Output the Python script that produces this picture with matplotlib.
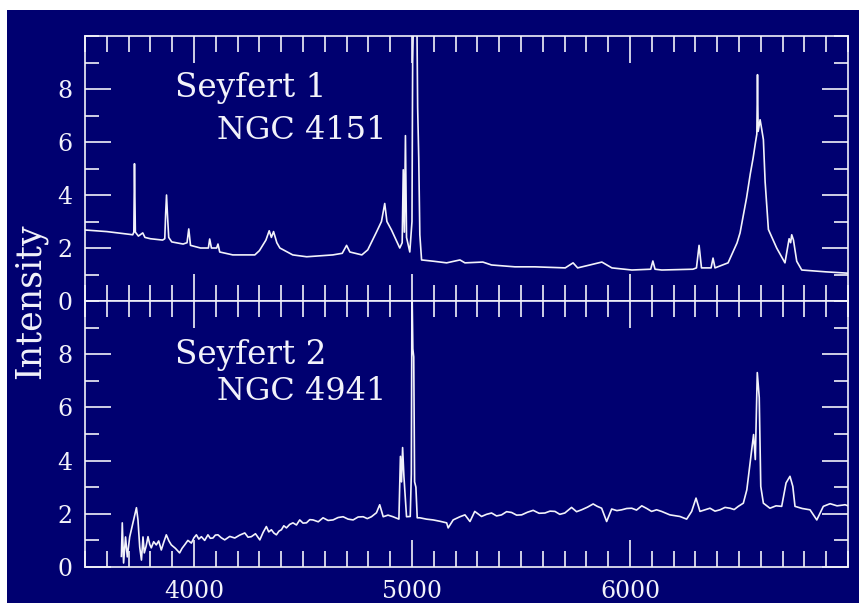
import matplotlib
matplotlib.use("Agg")
import matplotlib.pyplot as plt
from matplotlib.patches import Rectangle
from matplotlib.ticker import MultipleLocator, FixedLocator

# spectres (longueur d'onde en Angstrom, intensite)
wave_sy1 = [3500, 3600, 3700, 3719, 3724, 3727, 3731, 3745, 3765, 3775, 3800, 3856, 3866, 3870,
            3874, 3878, 3884, 3898, 3950, 3968, 3976, 3984, 4030, 4066, 4072, 4080, 4104, 4110,
            4118, 4178, 4279, 4300, 4330, 4345, 4355, 4365, 4380, 4394, 4453, 4517, 4637, 4680,
            4700, 4715, 4770, 4797, 4837, 4860, 4875, 4885, 4906, 4944, 4955, 4960, 4965, 4970,
            4975, 4990, 5000, 5003, 5010, 5020, 5026, 5031, 5036, 5044, 5100, 5159, 5220, 5243,
            5325, 5365, 5472, 5564, 5703, 5739, 5760, 5816, 5871, 5917, 6009, 6095, 6105, 6115,
            6146, 6289, 6305, 6317, 6328, 6372, 6381, 6390, 6450, 6491, 6505, 6535, 6552, 6565,
            6576, 6582, 6585, 6588, 6597, 6604, 6612, 6620, 6635, 6673, 6711, 6730, 6737, 6742,
            6750, 6765, 6788, 6900, 7000]
flux_sy1 = [2.68, 2.62, 2.52, 2.5, 2.6, 5.18, 2.6, 2.45, 2.57, 2.4, 2.35, 2.3, 2.35, 3.3,
            4.0, 3.3, 2.4, 2.23, 2.15, 2.2, 2.72, 2.1, 2.0, 2.0, 2.34, 2.0, 2.0, 2.15,
            1.85, 1.74, 1.74, 1.9, 2.3, 2.65, 2.4, 2.62, 2.2, 2.0, 1.74, 1.67, 1.74, 1.8,
            2.1, 1.85, 1.74, 1.93, 2.6, 3.0, 3.68, 3.0, 2.68, 2.0, 2.2, 4.95, 2.6, 6.24,
            2.4, 1.85, 3.0, 9.0, 12.0, 13.0, 7.3, 5.4, 2.5, 1.55, 1.5, 1.44, 1.55, 1.44,
            1.47, 1.36, 1.29, 1.29, 1.25, 1.44, 1.25, 1.36, 1.47, 1.25, 1.17, 1.2, 1.51, 1.2,
            1.17, 1.2, 1.25, 2.1, 1.25, 1.25, 1.62, 1.25, 1.44, 2.19, 2.57, 3.9, 4.8, 5.4,
            6.0, 6.3, 8.54, 6.4, 6.84, 6.5, 6.09, 4.5, 2.7, 2.0, 1.44, 2.35, 2.2, 2.5,
            2.3, 1.5, 1.17, 1.1, 1.05]

wave_sy2 = [3667, 3671, 3677, 3686, 3694, 3705, 3720, 3736, 3743, 3751, 3759, 3766, 3772, 3780,
            3789, 3797, 3804, 3815, 3827, 3838, 3850, 3862, 3873, 3885, 3896, 3915, 3934, 3945,
            3957, 3972, 3988, 4000, 4011, 4022, 4034, 4049, 4064, 4075, 4087, 4098, 4110, 4125,
            4141, 4164, 4187, 4210, 4233, 4248, 4263, 4282, 4302, 4317, 4332, 4343, 4355, 4366,
            4378, 4390, 4401, 4412, 4424, 4439, 4454, 4470, 4485, 4500, 4516, 4531, 4546, 4570,
            4592, 4615, 4638, 4661, 4684, 4707, 4730, 4753, 4776, 4795, 4814, 4837, 4852, 4868,
            4890, 4913, 4940, 4947, 4952, 4957, 4963, 4975, 4992, 4997, 5000, 5004, 5008, 5012,
            5018, 5024, 5036, 5066, 5097, 5128, 5159, 5166, 5189, 5220, 5243, 5266, 5288, 5319,
            5342, 5365, 5388, 5411, 5434, 5457, 5480, 5503, 5530, 5556, 5583, 5610, 5633, 5656,
            5678, 5701, 5732, 5755, 5778, 5805, 5831, 5850, 5870, 5893, 5916, 5940, 5962, 5985,
            6008, 6030, 6054, 6077, 6099, 6122, 6145, 6183, 6229, 6260, 6283, 6303, 6321, 6344,
            6367, 6390, 6413, 6436, 6459, 6478, 6497, 6520, 6536, 6551, 6567, 6575, 6584, 6593,
            6600, 6612, 6642, 6670, 6696, 6716, 6734, 6747, 6757, 6790, 6826, 6857, 6887, 6918,
            6950, 6987, 7000]
flux_sy2 = [0.4, 1.66, 0.15, 1.13, 0.38, 1.13, 1.66, 2.23, 1.77, 0.75, 0.26, 1.13, 0.53, 0.77,
            1.14, 0.85, 0.72, 0.95, 0.83, 0.98, 0.64, 0.95, 1.21, 0.98, 0.83, 0.7, 0.53, 0.7,
            0.83, 1.0, 0.9, 1.1, 1.21, 1.05, 1.14, 1.0, 1.21, 1.08, 1.09, 1.2, 1.21, 1.1,
            1.02, 1.15, 1.09, 1.2, 1.28, 1.12, 1.14, 1.25, 1.02, 1.3, 1.52, 1.32, 1.4, 1.28,
            1.21, 1.35, 1.4, 1.55, 1.47, 1.6, 1.66, 1.58, 1.77, 1.65, 1.66, 1.78, 1.77, 1.7,
            1.85, 1.75, 1.77, 1.86, 1.89, 1.8, 1.77, 1.88, 1.89, 1.82, 1.89, 2.04, 2.34, 1.89,
            1.95, 1.89, 1.8, 4.16, 3.2, 4.49, 3.4, 1.89, 1.9, 3.5, 10.6, 8.2, 7.9, 3.2,
            3.0, 1.85, 1.85, 1.8, 1.77, 1.72, 1.66, 1.47, 1.77, 1.89, 1.96, 1.71, 2.09, 1.9,
            1.98, 2.03, 1.92, 1.96, 2.08, 2.05, 1.95, 1.96, 2.06, 2.13, 2.02, 2.03, 2.1, 2.09,
            1.98, 2.03, 2.24, 2.08, 2.15, 2.25, 2.37, 2.28, 2.21, 1.71, 2.18, 2.12, 2.15, 2.2,
            2.21, 2.14, 2.3, 2.2, 2.09, 2.15, 2.09, 1.96, 1.9, 1.8, 2.09, 2.59, 2.09, 2.15,
            2.21, 2.1, 2.15, 2.24, 2.21, 2.16, 2.28, 2.4, 2.9, 3.91, 4.98, 4.04, 7.31, 6.37,
            3.03, 2.4, 2.21, 2.3, 2.28, 3.16, 3.41, 3.03, 2.28, 2.2, 2.15, 1.77, 2.28, 2.38,
            2.3, 2.34, 2.3]

labels = [("Seyfert 1", "NGC 4151"), ("Seyfert 2", "NGC 4941")]
xticks = [4000, 5000, 6000]

navy = "#000070"
fg = "#f2f2fa"
plt.rcParams['font.family'] = ['DejaVu Serif']

fig = plt.figure(figsize=(8.59, 6.03), dpi=100, facecolor="white")
fig.patches.append(Rectangle((7 / 859, 0), 1, 593 / 603, transform=fig.transFigure,
                             facecolor=navy, edgecolor="none", zorder=-10))

ax1 = fig.add_axes([0.09895, 0.5008, 0.8882, 0.4395])
ax2 = fig.add_axes([0.09895, 0.0597, 0.8882, 0.4411], sharex=ax1)


def style_axis(ax, show_x):
    ax.set_facecolor(navy)
    ax.set_xlim(3500, 7000)
    ax.set_ylim(0, 10)
    ax.xaxis.set_major_locator(FixedLocator(xticks))
    ax.xaxis.set_minor_locator(MultipleLocator(100))
    ax.yaxis.set_major_locator(FixedLocator([0, 2, 4, 6, 8]))
    ax.yaxis.set_minor_locator(MultipleLocator(1))
    for s in ax.spines.values():
        s.set_color(fg)
        s.set_linewidth(1.2)
    ax.tick_params(axis="both", which="both", direction="in", colors=fg, width=1.2,
                   top=True, right=True, labelsize=17, pad=9)
    ax.tick_params(axis="x", which="major", length=19.5)
    ax.tick_params(axis="x", which="minor", length=11.5)
    ax.tick_params(axis="y", which="major", length=18.7)
    ax.tick_params(axis="y", which="minor", length=10)
    ax.tick_params(axis="x", labelbottom=show_x)


style_axis(ax1, False)
style_axis(ax2, True)

ax1.plot(wave_sy1, flux_sy1, color=fg, lw=1.2)
ax2.plot(wave_sy2, flux_sy2, color=fg, lw=1.2)

for ax, (name, ngc), y1, y2 in [(ax1, labels[0], 0.804, 0.642), (ax2, labels[1], 0.797, 0.658)]:
    ax.text(0.118, y1, name, transform=ax.transAxes, color=fg, fontsize=23.5, va="center")
    ax.text(0.173, y2, ngc, transform=ax.transAxes, color=fg, fontsize=23, va="center")

fig.text(30 / 859, 1 - 301 / 603, "Intensity", rotation=90, color=fg, fontsize=25,
         ha="center", va="center")

plt.savefig("out.png", dpi=100, facecolor="white")
